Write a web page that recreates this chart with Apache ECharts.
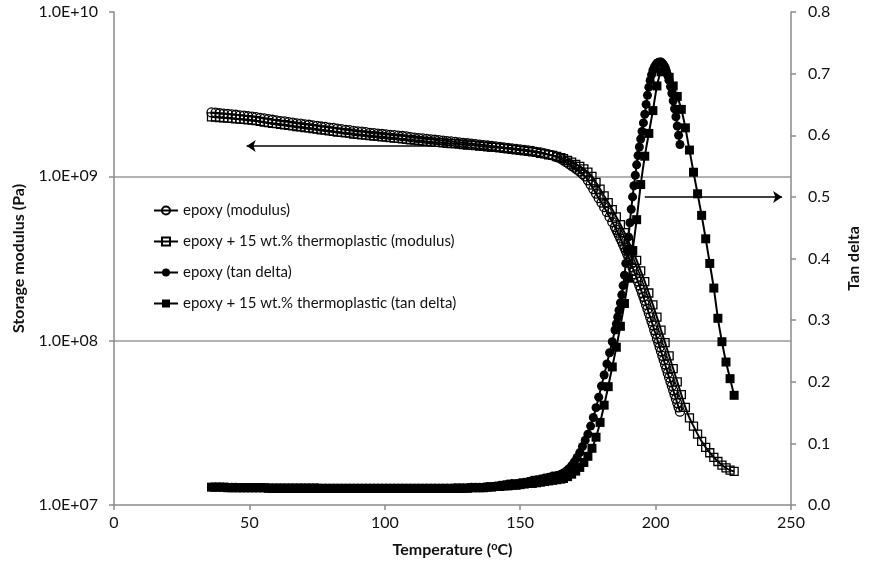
<!DOCTYPE html>
<html>
<head>
<meta charset="utf-8">
<title>DMA epoxy</title>
<script src="https://cdn.jsdelivr.net/npm/echarts@6/dist/echarts.min.js"></script>
<style>
  html, body { margin: 0; padding: 0; background: #fff; }
  #main { width: 870px; height: 569px; }
</style>
</head>
<body>
<div id="main"></div>
<script>
// temperatures (oC) for the neat epoxy run
let epoxyTemp = [36, 37.5, 39, 40.5, 42, 43.5, 45, 46.5, 48, 49.5,
  51, 52.5, 54, 55.5, 57, 58.5, 60, 61.5, 63, 64.5,
  66, 67.5, 69, 70.5, 72, 73.5, 75, 76.5, 78, 79.5,
  81, 82.5, 84, 85.5, 87, 88.5, 90, 91.5, 93, 94.5,
  96, 97.5, 99, 100.5, 102, 103.5, 105, 106.5, 108, 109.5,
  111, 112.5, 114, 115.5, 117, 118.5, 120, 121.5, 123, 124.5,
  126, 127.5, 129, 130.5, 132, 133.5, 135, 136.5, 138, 139.5,
  141, 142.5, 144, 145.5, 147, 148.5, 150, 151.5, 153, 154.5,
  156, 157.5, 159, 160.5, 162, 163.5, 165,
  166, 167, 168, 169, 170, 171, 172, 173, 174, 175, 176, 177, 178, 179, 180, 181, 182, 183, 184, 185,
  185.5, 186, 186.5, 187, 187.5, 188, 188.5, 189, 189.5, 190, 190.5, 191, 191.5, 192, 192.5, 193, 193.5, 194, 194.5, 195, 195.5, 196, 196.5, 197, 197.5, 198, 198.5, 199, 199.5, 200, 200.5, 201, 201.5, 202, 202.5, 203, 203.5, 204, 204.5, 205, 205.5, 206, 206.5, 207, 207.5, 208, 208.5, 209]
// storage modulus (Pa)
let epoxyModulus = [2.45e9, 2.44e9, 2.42e9, 2.41e9, 2.40e9, 2.38e9, 2.37e9, 2.35e9, 2.34e9, 2.32e9,
  2.31e9, 2.29e9, 2.27e9, 2.25e9, 2.23e9, 2.21e9, 2.19e9, 2.17e9, 2.16e9, 2.14e9,
  2.12e9, 2.10e9, 2.09e9, 2.07e9, 2.06e9, 2.04e9, 2.03e9, 2.01e9, 2.00e9, 1.98e9,
  1.97e9, 1.95e9, 1.94e9, 1.92e9, 1.91e9, 1.89e9, 1.88e9, 1.87e9, 1.86e9, 1.84e9,
  1.83e9, 1.82e9, 1.81e9, 1.80e9, 1.79e9, 1.78e9, 1.77e9, 1.76e9, 1.75e9, 1.73e9,
  1.72e9, 1.71e9, 1.70e9, 1.69e9, 1.68e9, 1.67e9, 1.66e9, 1.65e9, 1.64e9, 1.63e9,
  1.62e9, 1.61e9, 1.60e9, 1.59e9, 1.58e9, 1.57e9, 1.56e9, 1.55e9, 1.54e9, 1.53e9,
  1.52e9, 1.51e9, 1.50e9, 1.49e9, 1.48e9, 1.47e9, 1.46e9, 1.45e9, 1.44e9, 1.43e9,
  1.41e9, 1.40e9, 1.38e9, 1.36e9, 1.34e9, 1.31e9, 1.28e9,
  1.25e9, 1.22e9, 1.19e9, 1.16e9, 1.13e9, 1.10e9, 1.07e9, 1.03e9, 1.00e9, 9.46e8, 8.91e8, 8.37e8, 7.85e8, 7.36e8, 6.92e8, 6.49e8, 6.07e8, 5.66e8, 5.27e8, 4.92e8,
  4.73e8, 4.55e8, 4.37e8, 4.19e8, 4.02e8, 3.85e8, 3.69e8, 3.53e8, 3.37e8, 3.22e8, 3.08e8, 2.93e8, 2.79e8, 2.66e8, 2.53e8, 2.40e8, 2.29e8, 2.17e8, 2.06e8, 1.95e8, 1.85e8, 1.75e8, 1.65e8, 1.56e8, 1.47e8, 1.39e8, 1.31e8, 1.24e8, 1.16e8, 1.10e8, 1.03e8, 9.73e7, 9.14e7, 8.61e7, 8.09e7, 7.62e7, 7.16e7, 6.75e7, 6.34e7, 5.97e7, 5.62e7, 5.30e7, 4.99e7, 4.70e7, 4.43e7, 4.17e7, 3.93e7, 3.70e7]
let epoxyTan = [0.029, 0.029, 0.029, 0.029, 0.029, 0.029, 0.029, 0.028, 0.028, 0.028,
  0.028, 0.028, 0.028, 0.028, 0.028, 0.028, 0.028, 0.028, 0.028, 0.028,
  0.028, 0.028, 0.028, 0.028, 0.028, 0.028, 0.028, 0.027, 0.027, 0.027,
  0.027, 0.027, 0.027, 0.027, 0.027, 0.027, 0.027, 0.027, 0.027, 0.027,
  0.027, 0.027, 0.027, 0.027, 0.027, 0.027, 0.027, 0.027, 0.027, 0.027,
  0.027, 0.027, 0.027, 0.027, 0.027, 0.027, 0.027, 0.027, 0.027, 0.027,
  0.028, 0.028, 0.028, 0.028, 0.029, 0.029, 0.029, 0.029, 0.030, 0.030,
  0.031, 0.032, 0.033, 0.034, 0.035, 0.035, 0.036, 0.037, 0.038, 0.040,
  0.041, 0.042, 0.044, 0.045, 0.047, 0.048, 0.050,
  0.052, 0.055, 0.059, 0.064, 0.070, 0.077, 0.085, 0.095, 0.105, 0.115, 0.128, 0.142, 0.158, 0.175, 0.193, 0.211, 0.229, 0.247, 0.265, 0.284,
  0.294, 0.305, 0.316, 0.328, 0.341, 0.356, 0.373, 0.392, 0.413, 0.435, 0.458, 0.480, 0.500, 0.518, 0.535, 0.552, 0.567, 0.581, 0.594, 0.606, 0.620, 0.634, 0.650, 0.665, 0.678, 0.689, 0.698, 0.705, 0.710, 0.714, 0.717, 0.718, 0.719, 0.719, 0.717, 0.714, 0.710, 0.704, 0.697, 0.689, 0.679, 0.668, 0.656, 0.643, 0.630, 0.615, 0.600, 0.585]

// epoxy + 15 wt.% thermoplastic
let tpTemp = [36, 37.5, 39, 40.5, 42, 43.5, 45, 46.5, 48, 49.5,
  51, 52.5, 54, 55.5, 57, 58.5, 60, 61.5, 63, 64.5,
  66, 67.5, 69, 70.5, 72, 73.5, 75, 76.5, 78, 79.5,
  81, 82.5, 84, 85.5, 87, 88.5, 90, 91.5, 93, 94.5,
  96, 97.5, 99, 100.5, 102, 103.5, 105, 106.5, 108, 109.5,
  111, 112.5, 114, 115.5, 117, 118.5, 120, 121.5, 123, 124.5,
  126, 127.5, 129, 130.5, 132, 133.5, 135, 136.5, 138, 139.5,
  141, 142.5, 144, 145.5, 147, 148.5, 150, 151.5, 153, 154.5,
  156, 157.5, 159, 160.5, 162, 163.5, 165,
  166, 167.5, 169, 170.5, 172, 173.5, 175, 176.5, 178, 179.5, 181, 182.5, 184, 185.5, 187, 188.5, 190, 191.5, 193, 194.5, 196, 197.5, 199, 200.5, 202, 203.5, 205, 206.5, 208, 209.5, 211, 212.5, 214, 215.5, 217, 218.5, 220, 221.5, 223, 224.5, 226, 227.5, 229]
let tpModulus = [2.30e9, 2.29e9, 2.28e9, 2.27e9, 2.26e9, 2.25e9, 2.24e9, 2.23e9, 2.22e9, 2.21e9,
  2.20e9, 2.18e9, 2.16e9, 2.14e9, 2.12e9, 2.10e9, 2.09e9, 2.07e9, 2.06e9, 2.04e9,
  2.03e9, 2.01e9, 2.00e9, 1.98e9, 1.97e9, 1.95e9, 1.94e9, 1.92e9, 1.91e9, 1.89e9,
  1.88e9, 1.86e9, 1.85e9, 1.84e9, 1.83e9, 1.81e9, 1.80e9, 1.79e9, 1.78e9, 1.77e9,
  1.76e9, 1.75e9, 1.74e9, 1.73e9, 1.72e9, 1.71e9, 1.70e9, 1.69e9, 1.68e9, 1.67e9,
  1.66e9, 1.65e9, 1.64e9, 1.63e9, 1.62e9, 1.61e9, 1.61e9, 1.60e9, 1.59e9, 1.58e9,
  1.58e9, 1.57e9, 1.56e9, 1.55e9, 1.55e9, 1.54e9, 1.53e9, 1.52e9, 1.51e9, 1.50e9,
  1.50e9, 1.49e9, 1.48e9, 1.47e9, 1.46e9, 1.45e9, 1.44e9, 1.43e9, 1.42e9, 1.41e9,
  1.40e9, 1.38e9, 1.37e9, 1.35e9, 1.34e9, 1.32e9, 1.30e9,
  1.28e9, 1.25e9, 1.22e9, 1.18e9, 1.15e9, 1.11e9, 1.06e9, 1.00e9, 9.18e8, 8.37e8, 7.60e8, 6.92e8, 6.28e8, 5.66e8, 5.09e8, 4.55e8, 4.02e8, 3.53e8, 3.08e8, 2.66e8, 2.29e8, 1.95e8, 1.65e8, 1.39e8, 1.16e8, 9.73e7, 8.09e7, 6.75e7, 5.62e7, 4.70e7, 3.93e7, 3.39e7, 3.02e7, 2.70e7, 2.44e7, 2.24e7, 2.08e7, 1.95e7, 1.84e7, 1.75e7, 1.68e7, 1.63e7, 1.60e7]
let tpTan = [0.029, 0.029, 0.029, 0.029, 0.028, 0.028, 0.028, 0.028, 0.028, 0.028,
  0.028, 0.028, 0.028, 0.028, 0.027, 0.027, 0.027, 0.027, 0.027, 0.027,
  0.027, 0.027, 0.027, 0.027, 0.027, 0.027, 0.027, 0.027, 0.027, 0.027,
  0.027, 0.027, 0.027, 0.027, 0.027, 0.027, 0.027, 0.027, 0.027, 0.027,
  0.027, 0.027, 0.027, 0.027, 0.027, 0.027, 0.027, 0.027, 0.027, 0.027,
  0.027, 0.027, 0.027, 0.027, 0.027, 0.027, 0.027, 0.027, 0.027, 0.027,
  0.027, 0.027, 0.027, 0.027, 0.028, 0.028, 0.028, 0.028, 0.029, 0.029,
  0.030, 0.030, 0.031, 0.031, 0.032, 0.032, 0.033, 0.034, 0.035, 0.035,
  0.036, 0.037, 0.038, 0.039, 0.040, 0.041, 0.042,
  0.043, 0.046, 0.050, 0.055, 0.061, 0.069, 0.079, 0.092, 0.110, 0.134, 0.162, 0.192, 0.224, 0.256, 0.290, 0.327, 0.368, 0.412, 0.463, 0.520, 0.566, 0.603, 0.640, 0.680, 0.703, 0.704, 0.694, 0.680, 0.663, 0.642, 0.612, 0.576, 0.540, 0.505, 0.470, 0.432, 0.392, 0.352, 0.303, 0.265, 0.232, 0.205, 0.178]

let seriesNames = ['epoxy (modulus)', 'epoxy + 15 wt.% thermoplastic (modulus)', 'epoxy (tan delta)', 'epoxy + 15 wt.% thermoplastic (tan delta)']

// arrows: [from temperature, to temperature, level]
let modulusArrow = [117, 49, 1.53e9]
let tanArrow = [196, 246.7, 0.5]

function pairs(xs, ys) {
  let out = []
  for (let i = 0; i < xs.length; i++) out.push([xs[i], ys[i]])
  return out
}

function arrowLine(a) {
  return {
    silent: true,
    symbol: ['none', 'arrow'],
    symbolSize: 9,
    label: { show: false },
    lineStyle: { color: '#000', width: 1.5, type: 'solid' },
    data: [[{ coord: [a[0], a[2]] }, { coord: [a[1], a[2]] }]]
  }
}

let font = 'Lato, "Open Sans", sans-serif'
let axisGray = '#8a8a8a'

let myChart = echarts.init(document.getElementById('main'), null, { renderer: 'canvas' })
myChart.setOption({
  animation: false,
  backgroundColor: '#fff',
  textStyle: { fontFamily: font },
  grid: { left: 114, right: 76, top: 12, bottom: 64 },
  legend: {
    orient: 'vertical',
    left: 148,
    top: 198,
    itemGap: 16,
    itemWidth: 24,
    itemHeight: 10,
    textStyle: { fontFamily: font, fontSize: 15, color: '#111' },
    data: seriesNames
  },
  xAxis: {
    type: 'value',
    min: 0, max: 250, interval: 50,
    name: 'Temperature ({sup|o}C)',
    nameLocation: 'middle',
    nameGap: 36,
    nameTextStyle: {
      fontFamily: font, fontSize: 16, fontWeight: 'bold', color: '#111',
      rich: { sup: { fontFamily: font, fontSize: 11, fontWeight: 'bold', color: '#111', verticalAlign: 'top', padding: [0, 0, 6, 0] } }
    },
    axisLine: { lineStyle: { color: axisGray, width: 1.5 } },
    axisTick: { length: 5, lineStyle: { color: axisGray, width: 1.5 } },
    axisLabel: { fontFamily: font, fontSize: 16, color: '#111', margin: 10 },
    splitLine: { show: false }
  },
  yAxis: [{
    type: 'log',
    logBase: 10,
    min: 1e7, max: 1e10,
    name: 'Storage modulus (Pa)',
    nameLocation: 'middle',
    nameGap: 87,
    nameTextStyle: { fontFamily: font, fontSize: 16, fontWeight: 'bold', color: '#111' },
    axisLine: { show: true, lineStyle: { color: axisGray, width: 1.5 } },
    axisTick: { show: true, length: 5, lineStyle: { color: axisGray, width: 1.5 } },
    axisLabel: {
      fontFamily: font, fontSize: 16, color: '#111', margin: 16,
      formatter: function (v) { return '1.0E+' + String(Math.round(Math.log10(v))).padStart(2, '0') }
    },
    splitLine: { show: true, showMinLine: false, showMaxLine: false, lineStyle: { color: '#999', width: 1.5 } }
  }, {
    type: 'value',
    min: 0, max: 0.8, interval: 0.1,
    name: 'Tan delta',
    nameLocation: 'middle',
    nameGap: 55,
    nameTextStyle: { fontFamily: font, fontSize: 16, fontWeight: 'bold', color: '#111' },
    axisLine: { show: true, lineStyle: { color: axisGray, width: 1.5 } },
    axisTick: { show: true, length: 5, lineStyle: { color: axisGray, width: 1.5 } },
    axisLabel: { fontFamily: font, fontSize: 16, color: '#111', margin: 17, formatter: function (v) { return v.toFixed(1) } },
    splitLine: { show: false }
  }],
  series: [{
    name: seriesNames[0],
    type: 'line',
    yAxisIndex: 0,
    data: pairs(epoxyTemp, epoxyModulus),
    symbol: 'circle', symbolSize: 9,
    smooth: 0.2,
    lineStyle: { color: '#000', width: 2 },
    itemStyle: { color: 'rgba(255,255,255,0)', borderColor: '#000', borderWidth: 1.3 },
    markLine: arrowLine(modulusArrow)
  }, {
    name: seriesNames[1],
    type: 'line',
    yAxisIndex: 0,
    data: pairs(tpTemp, tpModulus),
    symbol: 'rect', symbolSize: 8,
    smooth: 0.2,
    lineStyle: { color: '#000', width: 2 },
    itemStyle: { color: 'rgba(255,255,255,0)', borderColor: '#000', borderWidth: 1.3 }
  }, {
    name: seriesNames[2],
    type: 'line',
    yAxisIndex: 1,
    data: pairs(epoxyTemp, epoxyTan),
    symbol: 'circle', symbolSize: 9,
    smooth: 0.2,
    lineStyle: { color: '#000', width: 2 },
    itemStyle: { color: '#000' },
    markLine: arrowLine(tanArrow)
  }, {
    name: seriesNames[3],
    type: 'line',
    yAxisIndex: 1,
    data: pairs(tpTemp, tpTan),
    symbol: 'rect', symbolSize: 9,
    smooth: 0.2,
    lineStyle: { color: '#000', width: 2 },
    itemStyle: { color: '#000' }
  }]
})
</script>
</body>
</html>
